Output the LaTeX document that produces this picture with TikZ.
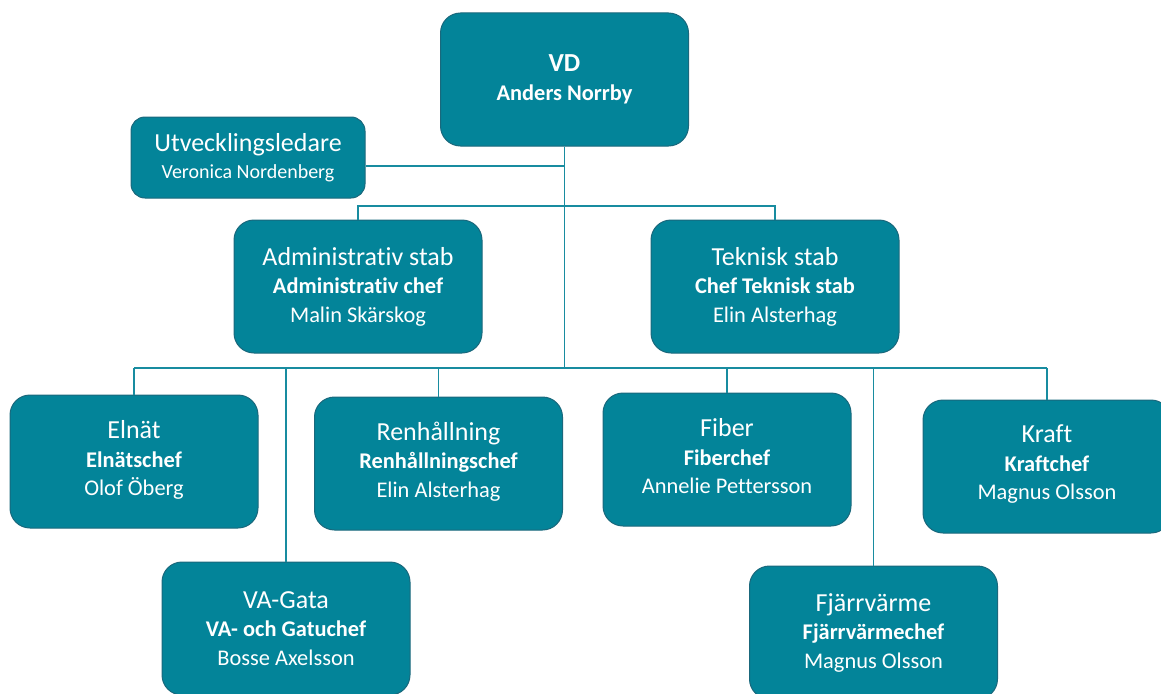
\documentclass[tikz,border=0pt]{standalone}
\usepackage{fontspec}
\setmainfont{Carlito}[Ligatures=NoCommon]
\usepackage{tikz}

\definecolor{unitteal}{RGB}{3,132,153}
\definecolor{unitedge}{RGB}{26,104,124}
\definecolor{linkteal}{RGB}{24,140,160}

\newcommand{\unithead}[1]{{\fontsize{26}{28.5}\selectfont #1}}

\begin{document}
\begin{tikzpicture}[x=1pt, y=-1pt,
                        unit node/.style={rectangle, rounded corners=20pt, draw=unitedge, fill=unitteal, text=white,
                                          line width=1pt, minimum width=248pt, minimum height=133pt, inner sep=0pt,
                                          align=center, font=\fontsize{22.4}{28.5}\selectfont},
                        small unit/.style={unit node, rounded corners=14pt, minimum width=234pt, minimum height=81pt,
                                          font=\fontsize{20}{27}\selectfont},
                        link/.style={draw=linkteal, line width=1.5pt}]

      \useasboundingbox (0,0) rectangle (1161,693);

      \node[unit node] (vd) at (564.5,79.5) {\textbf{\unithead{VD}}\\ \textbf{Anders Norrby}};
      \node[small unit] (utv) at (248,157.5) {\unithead{Utvecklingsledare}\\ Veronica Nordenberg};
      \node[unit node] (admin) at (358,286.5) {\unithead{Administrativ stab}\\ \textbf{Administrativ chef}\\ Malin Skärskog};
      \node[unit node] (teknisk) at (775,286.5) {\unithead{Teknisk stab}\\ \textbf{Chef Teknisk stab}\\ Elin Alsterhag};
      \node[unit node] (elnat) at (134,461.5) {\unithead{Elnät}\\ \textbf{Elnätschef}\\ Olof Öberg\\[-21.5pt]};
      \node[unit node] (renh) at (438.5,463.5) {\unithead{Renhållning}\\ \textbf{Renhållningschef}\\ Elin Alsterhag\\[-20.5pt]};
      \node[unit node] (fiber) at (727,459.5) {\unithead{Fiber}\\ \textbf{Fiberchef}\\ Annelie Pettersson\\[-22pt]};
      \node[unit node] (kraft) at (1047,466.5) {\unithead{Kraft}\\ \textbf{Kraftchef}\\ Magnus Olsson\\[-20.5pt]};
      \node[unit node] (vagata) at (286,628.5) {\unithead{VA-Gata}\\ \textbf{VA- och Gatuchef}\\ Bosse Axelsson};
      \node[unit node] (fjarr) at (873.5,632.5) {\unithead{Fjärrvärme}\\ \textbf{Fjärrvärmechef}\\ Magnus Olsson};

      \coordinate (utvjoin) at (564.5,166);
      \coordinate (upbus) at (564.5,206);
      \coordinate (lowbus) at (564.5,368);

      \draw[link] (vd.south) -- (lowbus);
      \draw[link] (utv.east |- utvjoin) -- (utvjoin);
      \draw[link] (admin.north) |- (upbus) -| (teknisk.north);
      \draw[link] (elnat.north |- lowbus) -- (kraft.north |- lowbus);
      \foreach \n in {elnat, vagata, renh, fiber, fjarr, kraft}
        \draw[link] (\n.north |- lowbus) -- (\n.north);

    \end{tikzpicture}
\end{document}
